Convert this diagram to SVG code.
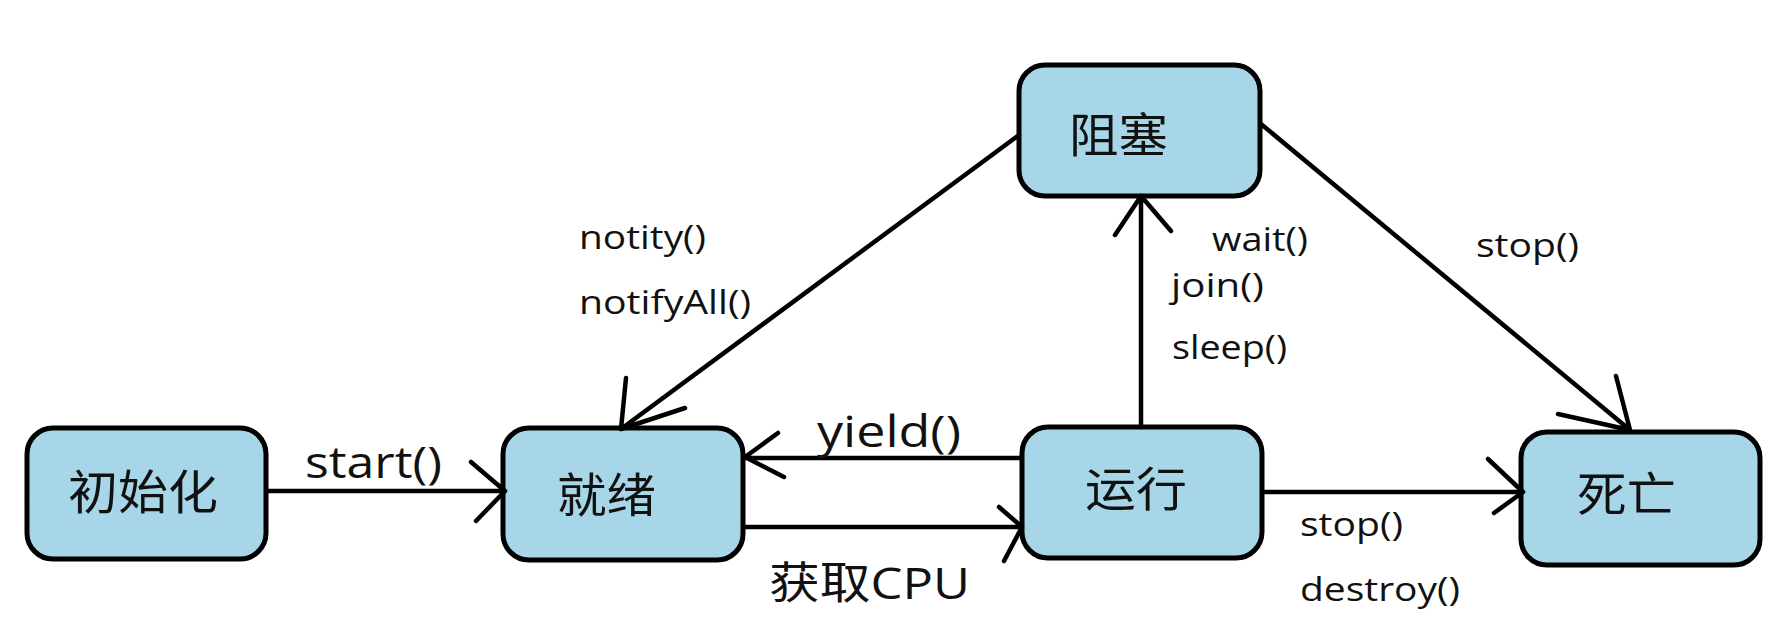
<svg xmlns="http://www.w3.org/2000/svg" width="1784" height="630" viewBox="0 0 1784 630">
<style>
.box{fill:#a6d6e7;stroke:#000;stroke-width:5}
.nt{font-family:"Open Sans","Noto Sans CJK SC",sans-serif;font-size:47px;fill:#111}
.lb{font-family:"Open Sans","Noto Sans CJK SC",sans-serif;fill:#111}
.s{font-size:33px}
.m{font-size:44px}
.ln{fill:none;stroke:#000;stroke-width:4.5;stroke-linecap:round;stroke-linejoin:round}
</style>
<rect width="1784" height="630" fill="#fff"/>
<g id="node-init"><rect class="box" x="27" y="428" width="239" height="131" rx="26"/><text class="nt" x="68" y="509" textLength="150" lengthAdjust="spacingAndGlyphs">初始化</text></g>
<g id="node-ready"><rect class="box" x="503" y="428" width="240" height="132" rx="26"/><text class="nt" x="557" y="512" textLength="99" lengthAdjust="spacingAndGlyphs">就绪</text></g>
<g id="node-running"><rect class="box" x="1022" y="427" width="240" height="131" rx="26"/><text class="nt" x="1085" y="506" textLength="102" lengthAdjust="spacingAndGlyphs">运行</text></g>
<g id="node-dead"><rect class="box" x="1521" y="432" width="239" height="133" rx="26"/><text class="nt" x="1577" y="511" textLength="99" lengthAdjust="spacingAndGlyphs">死亡</text></g>
<g id="node-blocked"><rect class="box" x="1019" y="65" width="241" height="131" rx="26"/><text class="nt" x="1069" y="152" textLength="99" lengthAdjust="spacingAndGlyphs">阻塞</text></g>
<g id="connectors">
<path class="ln" d="M266 491 L505 491 M471 462 L505 491 L476 521"/>
<path class="ln" d="M1022 458 L745 458 M778 433 L745 457 L784 477"/>
<path class="ln" d="M743 527 L1022 527 M999 507 L1022 527 L1004 561"/>
<path class="ln" d="M1141 427 L1141 196 M1115 235 L1141 196 L1171 231"/>
<path class="ln" d="M1019 135 L621 429 M626 378 L621 429 L685 408"/>
<path class="ln" d="M1261 124 L1630 430 M1558 414 L1630 430 L1616 376"/>
<path class="ln" d="M1262 492 L1523 492 M1488 459 L1523 492 L1494 513"/>
</g>
<g id="labels">
<text class="lb m" x="305" y="478" textLength="137" lengthAdjust="spacingAndGlyphs">start()</text>
<text class="lb m" x="817" y="447" textLength="144" lengthAdjust="spacingAndGlyphs">yield()</text>
<text class="lb m" x="769" y="599" textLength="201" lengthAdjust="spacingAndGlyphs">获取CPU</text>
<text class="lb s" x="579" y="249" textLength="127" lengthAdjust="spacingAndGlyphs">notity()</text>
<text class="lb s" x="579" y="314" textLength="172" lengthAdjust="spacingAndGlyphs">notifyAll()</text>
<text class="lb s" x="1212" y="251" textLength="96" lengthAdjust="spacingAndGlyphs">wait()</text>
<text class="lb s" x="1171" y="297" textLength="93" lengthAdjust="spacingAndGlyphs">join()</text>
<text class="lb s" x="1172" y="359" textLength="115" lengthAdjust="spacingAndGlyphs">sleep()</text>
<text class="lb s" x="1476" y="257" textLength="103" lengthAdjust="spacingAndGlyphs">stop()</text>
<text class="lb s" x="1300" y="536" textLength="103" lengthAdjust="spacingAndGlyphs">stop()</text>
<text class="lb s" x="1300" y="601" textLength="160" lengthAdjust="spacingAndGlyphs">destroy()</text>
</g>
</svg>
